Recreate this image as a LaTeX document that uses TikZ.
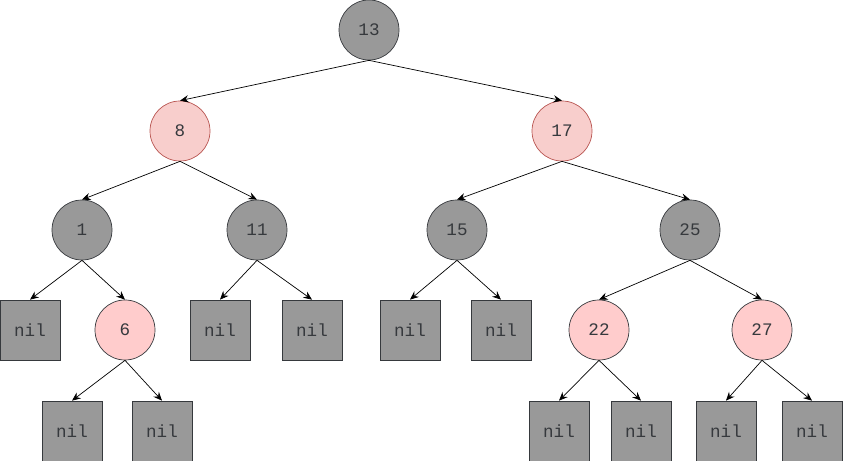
\documentclass[tikz,border=0pt]{standalone}
\usepackage{fontspec}
\setmonofont{Liberation Mono}
\usepackage{tikz}
\usetikzlibrary{arrows.meta}
\definecolor{nodegray}{RGB}{153,153,153}
\definecolor{darkline}{RGB}{54,57,61}
\definecolor{softred}{RGB}{248,206,204}
\definecolor{softredline}{RGB}{184,84,80}
\definecolor{pinkred}{RGB}{255,204,204}

\tikzset{
    blacknode/.style={circle,draw=darkline,fill=nodegray,line width=0.6pt,minimum size=1.8cm,inner sep=0pt,font=\ttfamily\fontsize{15}{17}\selectfont,text=darkline},
    rednode/.style={blacknode,draw=softredline,fill=softred},
    pinknode/.style={blacknode,fill=pinkred},
    nilbox/.style={rectangle,draw=darkline,fill=nodegray,line width=0.6pt,minimum size=1.8cm,inner sep=0pt,font=\ttfamily\fontsize{15}{17}\selectfont,text=darkline},
    edge/.style={-{Stealth[length=2.6mm,width=2.2mm,inset=0.9mm]},line width=0.6pt}
}

\begin{document}
\begin{tikzpicture}[x=0.03cm,y=-0.03cm]
    \useasboundingbox (0,0) rectangle (843,461);

    % Root and its children
    \node[blacknode] (n13) at (369,30) {13};
    \node[rednode] (n8) at (180,131) {8};
    \node[rednode] (n17) at (562,131) {17};

    % Third level
    \node[blacknode] (n1) at (82,230) {1};
    \node[blacknode] (n11) at (257,230) {11};
    \node[blacknode] (n15) at (457,230) {15};
    \node[blacknode] (n25) at (690,230) {25};

    % Fourth level
    \node[nilbox] (nilA) at (30,330) {nil};
    \node[pinknode] (n6) at (125,330) {6};
    \node[nilbox] (nilB) at (220,330) {nil};
    \node[nilbox] (nilC) at (312,330) {nil};
    \node[nilbox] (nilD) at (410,330) {nil};
    \node[nilbox] (nilE) at (501,330) {nil};
    \node[pinknode] (n22) at (599,330) {22};
    \node[pinknode] (n27) at (762,330) {27};

    % Bottom leaves
    \node[nilbox] (nilF) at (72,431) {nil};
    \node[nilbox] (nilG) at (162,431) {nil};
    \node[nilbox] (nilH) at (559,431) {nil};
    \node[nilbox] (nilI) at (641,431) {nil};
    \node[nilbox] (nilJ) at (726,431) {nil};
    \node[nilbox] (nilK) at (812,431) {nil};

    % Edges
    \draw[edge] (n13.south) -- (n8.north);
    \draw[edge] (n13.south) -- (n17.north);
    \draw[edge] (n8.south) -- (n1.north);
    \draw[edge] (n8.south) -- (n11.north);
    \draw[edge] (n17.south) -- (n15.north);
    \draw[edge] (n17.south) -- (n25.north);
    \draw[edge] (n1.south) -- (nilA.north);
    \draw[edge] (n1.south) -- (n6.north);
    \draw[edge] (n11.south) -- (nilB.north);
    \draw[edge] (n11.south) -- (nilC.north);
    \draw[edge] (n15.south) -- (nilD.north);
    \draw[edge] (n15.south) -- (nilE.north);
    \draw[edge] (n25.south) -- (n22.north);
    \draw[edge] (n25.south) -- (n27.north);
    \draw[edge] (n6.south) -- (nilF.north);
    \draw[edge] (n6.south) -- (nilG.north);
    \draw[edge] (n22.south) -- (nilH.north);
    \draw[edge] (n22.south) -- (nilI.north);
    \draw[edge] (n27.south) -- (nilJ.north);
    \draw[edge] (n27.south) -- (nilK.north);
\end{tikzpicture}
\end{document}
